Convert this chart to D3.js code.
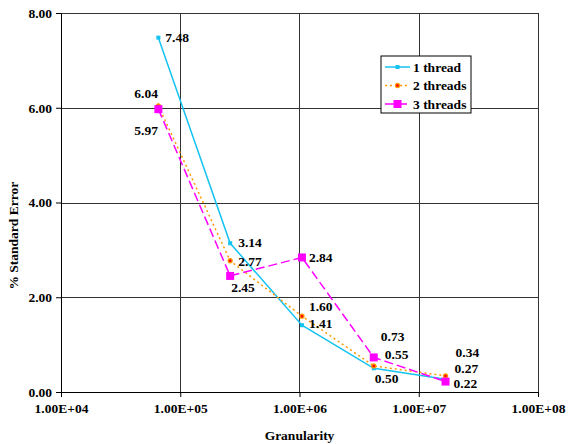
<!DOCTYPE html>
<html>
<head>
    <title>% Standard Error vs Granularity</title>
    <script src="https://d3js.org/d3.v7.min.js"></script>
    <style>
        body { margin: 0; background: #fff; }
        text { font-family: "Liberation Serif", "Times New Roman", serif; font-weight: bold; font-size: 13.5px; fill: #000; }
    </style>
</head>
<body>
    <svg width="569" height="444"></svg>
    <script>
        // Data
        const granularity = [65536, 262144, 1048576, 4194304, 16777216];
        const oneThread = [7.48, 3.14, 1.41, 0.50, 0.27];
        const twoThreads = [6.04, 2.77, 1.60, 0.55, 0.34];
        const threeThreads = [5.97, 2.45, 2.84, 0.73, 0.22];
        const seriesNames = ["1 thread", "2 threads", "3 threads"];
        const xTicks = [1e4, 1e5, 1e6, 1e7, 1e8];
        const yTicks = [0, 2, 4, 6, 8];

        // where each data label sits relative to its point
        const labelOffsets = [
            [[7, 0], [8, -1], [7, -2], [1, 10], [9, -11]],
            [[-24, -13], [8, 1], [7, -10], [11, -12], [10, -24]],
            [[-24, 21], [1, 11], [7, 0], [7, -21], [8, 2]]
        ];

        const margin = {top: 13, right: 31, bottom: 52, left: 61},
              width = 569 - margin.left - margin.right,
              height = 444 - margin.top - margin.bottom;

        const svg = d3.select("svg")
          .append("g")
            .attr("transform", `translate(${margin.left},${margin.top})`);

        const x = d3.scaleLog().domain([1e4, 1e8]).range([0, width]);
        const y = d3.scaleLinear().domain([0, 8]).range([height, 0]);

        // 1.00E+05 style labels
        const sci = d => {
            const e = Math.round(Math.log10(d));
            return (d / Math.pow(10, e)).toFixed(2) + "E+" + String(e).padStart(2, "0");
        };

        // grid lines
        svg.append("g").selectAll("line")
          .data(yTicks.slice(1))
          .join("line")
            .attr("x1", 0).attr("x2", width)
            .attr("y1", d => Math.round(y(d)) + 0.5).attr("y2", d => Math.round(y(d)) + 0.5)
            .attr("stroke", "#333");
        svg.append("g").selectAll("line")
          .data(xTicks.slice(1))
          .join("line")
            .attr("x1", d => Math.round(x(d)) + 0.5).attr("x2", d => Math.round(x(d)) + 0.5)
            .attr("y1", 0).attr("y2", height)
            .attr("stroke", "#333");

        // axes
        const xAxis = svg.append("g")
            .attr("transform", `translate(0,${height})`)
            .call(d3.axisBottom(x).tickValues(xTicks).tickFormat(sci).tickSize(5).tickPadding(6));
        const yAxis = svg.append("g")
            .call(d3.axisLeft(y).tickValues(yTicks).tickFormat(d3.format(".2f")).tickSize(5).tickPadding(4));
        [xAxis, yAxis].forEach(a => {
            a.select(".domain").attr("stroke", "#000");
            a.selectAll(".tick line").attr("stroke", "#000");
            a.selectAll("text").attr("font-family", null).attr("font-size", null).attr("fill", null);
        });

        // axis titles
        svg.append("text")
            .attr("x", x(1e6))
            .attr("y", height + 48)
            .attr("text-anchor", "middle")
            .text("Granularity");
        svg.append("text")
            .attr("transform", `translate(${-43},${y(3.3)}) rotate(-90)`)
            .attr("text-anchor", "middle")
            .text("% Standard Error");

        const series = [
            {name: seriesNames[0], values: oneThread, color: "#14c3f2", dash: null, marker: "smallSquare"},
            {name: seriesNames[1], values: twoThreads, color: "#ff9900", dash: "2,3", marker: "dot"},
            {name: seriesNames[2], values: threeThreads, color: "#ff00ff", dash: "9,4", marker: "bigSquare"}
        ];

        function drawMarker(g, kind, color) {
            if (kind === "smallSquare") {
                g.append("rect").attr("x", -2).attr("y", -2).attr("width", 4).attr("height", 4).attr("fill", color);
            } else if (kind === "dot") {
                g.append("circle").attr("r", 2).attr("fill", "#ff0000").attr("stroke", color).attr("stroke-width", 1.3);
            } else {
                g.append("rect").attr("x", -4).attr("y", -4).attr("width", 8).attr("height", 8).attr("fill", color);
            }
        }

        const line = d3.line()
            .x(d => x(d[0]))
            .y(d => y(d[1]));

        series.forEach(s => {
            const pts = granularity.map((g, i) => [g, s.values[i]]);
            svg.append("path")
                .datum(pts)
                .attr("fill", "none")
                .attr("stroke", s.color)
                .attr("stroke-width", 1.5)
                .attr("stroke-dasharray", s.dash)
                .attr("d", line);
        });

        series.forEach(s => {
            granularity.forEach((g, i) => {
                const m = svg.append("g").attr("transform", `translate(${x(g)},${y(s.values[i])})`);
                drawMarker(m, s.marker, s.color);
            });
        });

        // data labels
        series.forEach((s, si) => {
            svg.append("g").selectAll("text")
              .data(granularity.map((g, i) => [g, s.values[i], labelOffsets[si][i]]))
              .join("text")
                .attr("x", d => x(d[0]) + d[2][0])
                .attr("y", d => y(d[1]) + d[2][1])
                .attr("dy", "0.35em")
                .text(d => d3.format(".2f")(d[1]));
        });

        // legend
        const legend = svg.append("g")
            .attr("transform", "translate(320,43)");
        legend.append("rect")
            .attr("width", 90).attr("height", 57)
            .attr("fill", "#fff").attr("stroke", "#000");
        series.forEach((s, i) => {
            const row = legend.append("g").attr("transform", `translate(0,${11 + i * 18.5})`);
            row.append("line")
                .attr("x1", 4).attr("x2", 29)
                .attr("stroke", s.color).attr("stroke-width", 1.5)
                .attr("stroke-dasharray", s.dash);
            drawMarker(row.append("g").attr("transform", "translate(16.5,0)"), s.marker, s.color);
            row.append("text")
                .attr("x", 32)
                .attr("dy", "0.35em")
                .text(s.name);
        });
    </script>
</body>
</html>
